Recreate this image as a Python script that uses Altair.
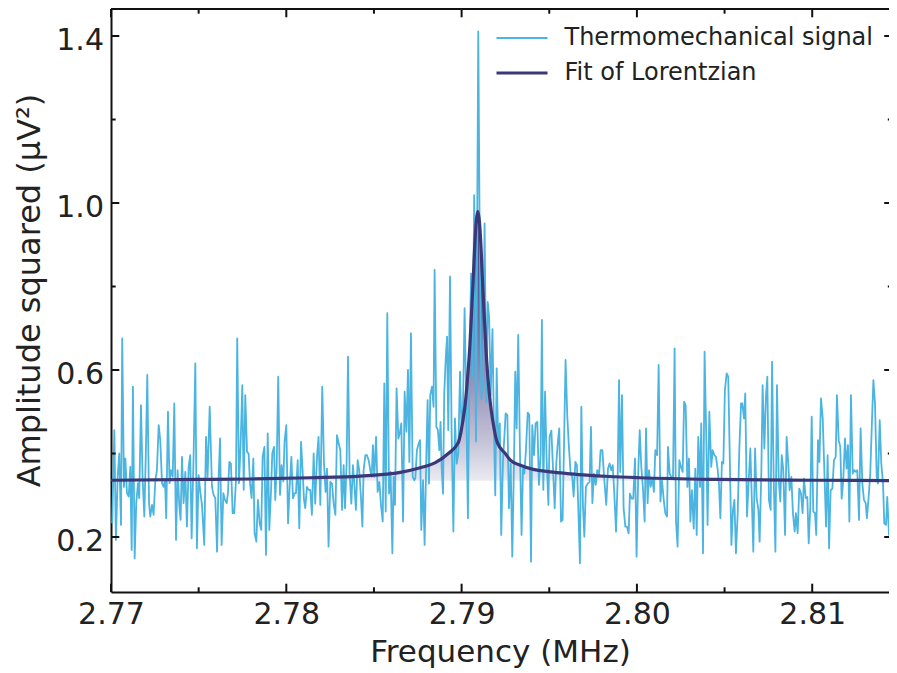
import altair as alt
import pandas as pd

# ---------------- data ----------------
FREQ_MHZ = [
    2.77007, 2.77019, 2.77028, 2.77038, 2.77047, 2.77057, 2.77064, 2.77074, 2.77082, 2.77091,
    2.77101, 2.77110, 2.77118, 2.77125, 2.77135, 2.77144, 2.77154, 2.77161, 2.77171, 2.77180,
    2.77190, 2.77199, 2.77207, 2.77217, 2.77224, 2.77234, 2.77243, 2.77253, 2.77262, 2.77272,
    2.77281, 2.77291, 2.77300, 2.77308, 2.77315, 2.77325, 2.77334, 2.77342, 2.77352, 2.77361,
    2.77371, 2.77380, 2.77390, 2.77397, 2.77405, 2.77414, 2.77424, 2.77433, 2.77443, 2.77452,
    2.77460, 2.77471, 2.77481, 2.77490, 2.77500, 2.77509, 2.77519, 2.77532, 2.77542, 2.77551,
    2.77563, 2.77576, 2.77585, 2.77595, 2.77605, 2.77614, 2.77622, 2.77631, 2.77641, 2.77650,
    2.77660, 2.77667, 2.77675, 2.77684, 2.77694, 2.77703, 2.77713, 2.77720, 2.77730, 2.77739,
    2.77749, 2.77757, 2.77766, 2.77776, 2.77785, 2.77793, 2.77802, 2.77812, 2.77819, 2.77829,
    2.77838, 2.77848, 2.77857, 2.77865, 2.77875, 2.77884, 2.77894, 2.77903, 2.77913, 2.77920,
    2.77930, 2.77937, 2.77945, 2.77954, 2.77964, 2.77973, 2.77983, 2.77990, 2.78000, 2.78010,
    2.78019, 2.78029, 2.78038, 2.78048, 2.78055, 2.78065, 2.78074, 2.78084, 2.78093, 2.78101,
    2.78108, 2.78118, 2.78127, 2.78137, 2.78146, 2.78156, 2.78165, 2.78175, 2.78184, 2.78194,
    2.78205, 2.78215, 2.78224, 2.78232, 2.78241, 2.78251, 2.78261, 2.78270, 2.78280, 2.78289,
    2.78299, 2.78308, 2.78318, 2.78327, 2.78335, 2.78344, 2.78352, 2.78361, 2.78371, 2.78380,
    2.78388, 2.78397, 2.78407, 2.78416, 2.78426, 2.78434, 2.78441, 2.78451, 2.78460, 2.78470,
    2.78479, 2.78487, 2.78494, 2.78502, 2.78512, 2.78521, 2.78531, 2.78540, 2.78550, 2.78559,
    2.78567, 2.78576, 2.78586, 2.78595, 2.78605, 2.78612, 2.78620, 2.78629, 2.78639, 2.78647,
    2.78656, 2.78666, 2.78675, 2.78685, 2.78694, 2.78702, 2.78711, 2.78721, 2.78730, 2.78736,
    2.78745, 2.78755, 2.78763, 2.78770, 2.78780, 2.78789, 2.78799, 2.78806, 2.78814, 2.78821,
    2.78831, 2.78840, 2.78846, 2.78856, 2.78865, 2.78873, 2.78880, 2.78886, 2.78894, 2.78901,
    2.78909, 2.78917, 2.78924, 2.78934, 2.78943, 2.78953, 2.78962, 2.78972, 2.78981, 2.78991,
    2.79000, 2.79008, 2.79017, 2.79027, 2.79036, 2.79045, 2.79054, 2.79062, 2.79072, 2.79082,
    2.79095, 2.79103, 2.79113, 2.79123, 2.79131, 2.79141, 2.79149, 2.79157, 2.79166, 2.79176,
    2.79184, 2.79192, 2.79200, 2.79209, 2.79218, 2.79226, 2.79236, 2.79245, 2.79251, 2.79261,
    2.79270, 2.79280, 2.79289, 2.79299, 2.79306, 2.79314, 2.79323, 2.79333, 2.79342, 2.79350,
    2.79358, 2.79367, 2.79377, 2.79386, 2.79396, 2.79403, 2.79413, 2.79422, 2.79432, 2.79441,
    2.79451, 2.79458, 2.79466, 2.79476, 2.79485, 2.79495, 2.79502, 2.79512, 2.79521, 2.79531,
    2.79540, 2.79550, 2.79557, 2.79567, 2.79576, 2.79584, 2.79593, 2.79603, 2.79612, 2.79622,
    2.79631, 2.79639, 2.79649, 2.79658, 2.79666, 2.79675, 2.79683, 2.79692, 2.79700, 2.79709,
    2.79719, 2.79730, 2.79738, 2.79746, 2.79755, 2.79765, 2.79774, 2.79784, 2.79793, 2.79803,
    2.79812, 2.79825, 2.79835, 2.79844, 2.79854, 2.79862, 2.79871, 2.79881, 2.79890, 2.79898,
    2.79905, 2.79915, 2.79924, 2.79934, 2.79943, 2.79953, 2.79960, 2.79970, 2.79979, 2.79989,
    2.79998, 2.80008, 2.80016, 2.80025, 2.80035, 2.80044, 2.80052, 2.80061, 2.80069, 2.80078,
    2.80088, 2.80097, 2.80105, 2.80115, 2.80124, 2.80134, 2.80143, 2.80153, 2.80162, 2.80172,
    2.80177, 2.80187, 2.80196, 2.80206, 2.80215, 2.80223, 2.80232, 2.80242, 2.80251, 2.80261,
    2.80269, 2.80278, 2.80288, 2.80297, 2.80305, 2.80314, 2.80324, 2.80333, 2.80341, 2.80350,
    2.80360, 2.80367, 2.80377, 2.80386, 2.80396, 2.80403, 2.80413, 2.80424, 2.80432, 2.80442,
    2.80451, 2.80461, 2.80468, 2.80476, 2.80485, 2.80493, 2.80502, 2.80512, 2.80521, 2.80529,
    2.80539, 2.80548, 2.80556, 2.80565, 2.80575, 2.80584, 2.80594, 2.80601, 2.80611, 2.80618,
    2.80628, 2.80637, 2.80647, 2.80656, 2.80664, 2.80674, 2.80683, 2.80693, 2.80700, 2.80710,
    2.80717, 2.80727, 2.80736, 2.80744, 2.80753, 2.80763, 2.80771, 2.80780, 2.80790, 2.80799,
    2.80809, 2.80818, 2.80826, 2.80835, 2.80845, 2.80854, 2.80864, 2.80871, 2.80881, 2.80890,
    2.80900, 2.80907, 2.80917, 2.80926, 2.80936, 2.80945, 2.80953, 2.80963, 2.80972, 2.80980,
    2.80989, 2.80997, 2.81006, 2.81016, 2.81023, 2.81033, 2.81041, 2.81050, 2.81060, 2.81069,
    2.81079, 2.81088, 2.81096, 2.81105, 2.81115, 2.81124, 2.81134, 2.81141, 2.81151, 2.81160,
    2.81168, 2.81177, 2.81187, 2.81196, 2.81204, 2.81212, 2.81221, 2.81231, 2.81240, 2.81250,
    2.81257, 2.81267, 2.81276, 2.81286, 2.81295, 2.81305, 2.81312, 2.81322, 2.81331, 2.81341,
    2.81349, 2.81358, 2.81368, 2.81375, 2.81385, 2.81394, 2.81404, 2.81411, 2.81421, 2.81428,
    2.81438, 2.81447, 2.81457, 2.81466, 2.81476, 2.81484,
]

AMPLITUDE = [
    0.233, 0.456, 0.193, 0.344, 0.400, 0.229, 0.676, 0.320, 0.388, 0.305,
    0.297, 0.368, 0.169, 0.560, 0.149, 0.281, 0.329, 0.293, 0.516, 0.344,
    0.249, 0.408, 0.588, 0.281, 0.249, 0.277, 0.253, 0.337, 0.360, 0.468,
    0.432, 0.329, 0.320, 0.337, 0.245, 0.500, 0.329, 0.360, 0.344, 0.520,
    0.193, 0.360, 0.273, 0.241, 0.392, 0.281, 0.356, 0.225, 0.368, 0.396,
    0.197, 0.392, 0.616, 0.173, 0.348, 0.309, 0.277, 0.181, 0.440, 0.344,
    0.512, 0.320, 0.301, 0.293, 0.165, 0.344, 0.436, 0.181, 0.305, 0.289,
    0.281, 0.305, 0.380, 0.376, 0.257, 0.257, 0.337, 0.676, 0.329, 0.416,
    0.564, 0.313, 0.540, 0.404, 0.400, 0.329, 0.293, 0.388, 0.209, 0.189,
    0.289, 0.233, 0.217, 0.392, 0.416, 0.157, 0.448, 0.217, 0.313, 0.400,
    0.416, 0.289, 0.368, 0.584, 0.301, 0.372, 0.333, 0.428, 0.468, 0.233,
    0.320, 0.392, 0.293, 0.305, 0.305, 0.384, 0.221, 0.428, 0.360, 0.289,
    0.269, 0.320, 0.313, 0.313, 0.253, 0.400, 0.280, 0.392, 0.440, 0.277,
    0.560, 0.376, 0.308, 0.364, 0.177, 0.332, 0.328, 0.280, 0.253, 0.444,
    0.424, 0.408, 0.265, 0.372, 0.269, 0.376, 0.632, 0.352, 0.280, 0.372,
    0.328, 0.265, 0.384, 0.360, 0.293, 0.225, 0.360, 0.396, 0.396, 0.384,
    0.360, 0.344, 0.420, 0.344, 0.440, 0.308, 0.332, 0.277, 0.237, 0.568,
    0.261, 0.736, 0.304, 0.356, 0.161, 0.344, 0.277, 0.556, 0.436, 0.448,
    0.472, 0.237, 0.548, 0.452, 0.600, 0.380, 0.688, 0.344, 0.336, 0.340,
    0.408, 0.424, 0.432, 0.217, 0.336, 0.181, 0.400, 0.528, 0.328, 0.540,
    0.560, 0.512, 0.840, 0.464, 0.456, 0.408, 0.476, 0.368, 0.304, 0.544,
    0.624, 0.680, 0.456, 0.824, 0.448, 0.213, 0.484, 0.376, 0.400, 0.596,
    0.448, 0.512, 0.748, 0.512, 0.245, 0.620, 0.831, 0.583, 1.019, 0.429,
    1.411, 0.925, 0.531, 0.583, 0.951, 0.523, 0.763, 0.728, 0.540, 0.698,
    0.472, 0.300, 0.604, 0.420, 0.472, 0.205, 0.384, 0.448, 0.496, 0.492,
    0.269, 0.376, 0.153, 0.384, 0.596, 0.460, 0.684, 0.400, 0.205, 0.364,
    0.352, 0.408, 0.498, 0.492, 0.141, 0.468, 0.396, 0.472, 0.476, 0.325,
    0.400, 0.720, 0.313, 0.548, 0.384, 0.277, 0.440, 0.455, 0.368, 0.269,
    0.376, 0.432, 0.460, 0.237, 0.241, 0.416, 0.624, 0.488, 0.416, 0.352,
    0.344, 0.297, 0.380, 0.372, 0.265, 0.137, 0.512, 0.277, 0.201, 0.320,
    0.328, 0.332, 0.464, 0.281, 0.352, 0.325, 0.360, 0.348, 0.408, 0.408,
    0.348, 0.277, 0.364, 0.376, 0.360, 0.372, 0.304, 0.213, 0.336, 0.576,
    0.356, 0.540, 0.269, 0.225, 0.225, 0.209, 0.304, 0.292, 0.292, 0.388,
    0.153, 0.360, 0.456, 0.368, 0.312, 0.237, 0.460, 0.281, 0.360, 0.320,
    0.340, 0.308, 0.408, 0.396, 0.612, 0.285, 0.336, 0.289, 0.257, 0.249,
    0.416, 0.352, 0.344, 0.344, 0.652, 0.237, 0.177, 0.384, 0.368, 0.356,
    0.524, 0.516, 0.320, 0.388, 0.237, 0.312, 0.220, 0.364, 0.205, 0.440,
    0.320, 0.472, 0.161, 0.644, 0.432, 0.229, 0.500, 0.368, 0.408, 0.396,
    0.392, 0.360, 0.328, 0.245, 0.380, 0.376, 0.552, 0.592, 0.584, 0.408,
    0.181, 0.265, 0.289, 0.161, 0.257, 0.408, 0.520, 0.520, 0.484, 0.544,
    0.249, 0.328, 0.412, 0.281, 0.165, 0.412, 0.293, 0.265, 0.189, 0.360,
    0.564, 0.412, 0.536, 0.584, 0.289, 0.265, 0.620, 0.344, 0.165, 0.564,
    0.336, 0.285, 0.396, 0.360, 0.205, 0.440, 0.372, 0.312, 0.344, 0.257,
    0.213, 0.257, 0.209, 0.316, 0.304, 0.257, 0.340, 0.293, 0.296, 0.185,
    0.273, 0.488, 0.261, 0.257, 0.205, 0.432, 0.380, 0.532, 0.484, 0.360,
    0.225, 0.396, 0.173, 0.312, 0.316, 0.384, 0.392, 0.540, 0.432, 0.416,
    0.292, 0.336, 0.436, 0.364, 0.420, 0.237, 0.540, 0.352, 0.360, 0.356,
    0.360, 0.241, 0.460, 0.328, 0.289, 0.281, 0.245, 0.296, 0.352, 0.480,
    0.576, 0.520, 0.344, 0.328, 0.480, 0.376, 0.328, 0.233, 0.229, 0.296,
    0.205, 0.257, 0.220, 0.420, 0.336, 0.261,
]

FIT_FREQ_MHZ = [
    2.77002, 2.77509, 2.77795, 2.78137, 2.78422, 2.78650, 2.78764, 2.78850, 2.78924, 2.78981,
    2.79007, 2.79021, 2.79035, 2.79047, 2.79058, 2.79067, 2.79075, 2.79084, 2.79092, 2.79101,
    2.79110, 2.79118, 2.79127, 2.79138, 2.79149, 2.79164, 2.79178, 2.79204, 2.79249, 2.79278,
    2.79335, 2.79409, 2.79506, 2.79603, 2.79694, 2.79843, 2.80019, 2.80447, 2.81018, 2.81438,
]
FIT_AMPLITUDE = [
    0.336, 0.338, 0.339, 0.342, 0.346, 0.355, 0.366, 0.378, 0.400, 0.426,
    0.478, 0.520, 0.587, 0.657, 0.748, 0.825, 0.900, 0.958, 0.980, 0.958,
    0.900, 0.825, 0.748, 0.657, 0.587, 0.520, 0.478, 0.426, 0.400, 0.384,
    0.372, 0.362, 0.356, 0.352, 0.349, 0.345, 0.342, 0.338, 0.336, 0.335,
]
FIT_SHADE_FLOOR = 0.335

SERIES = ["Thermomechanical signal", "Fit of Lorentzian"]
X_MAJOR = [2.77, 2.78, 2.79, 2.80, 2.81]
X_MINOR = [2.775, 2.785, 2.795, 2.805]
Y_MAJOR = [0.2, 0.6, 1.0, 1.4]
Y_MINOR = [0.4, 0.8, 1.2]
X_DOMAIN = [2.77, 2.81438]
Y_DOMAIN = [0.0683, 1.4647]

# ---------------- styling ----------------
COLORS = ["#4bb4e0", "#3b387a"]
STROKES = [1.8, 3.2]
FONT = "DejaVu Sans"
TEXT = "#222222"
INK = "#111111"
W, H = 778, 583
MAJ, MIN = 8.3, 4.7

signal_df = pd.DataFrame({"freq": FREQ_MHZ, "amp": AMPLITUDE, "series": SERIES[0]})
fit_df = pd.DataFrame({"freq": FIT_FREQ_MHZ, "amp": FIT_AMPLITUDE, "series": SERIES[1]})

xscale = alt.Scale(domain=X_DOMAIN, nice=False, zero=False)
yscale = alt.Scale(domain=Y_DOMAIN, nice=False, zero=False)
cscale = alt.Scale(domain=SERIES, range=COLORS)
wscale = alt.Scale(type="ordinal", domain=SERIES, range=STROKES)

x_axis = alt.Axis(
    values=X_MAJOR, format=".2f", title="Frequency (MHz)", grid=False,
    ticks=False, tickSize=0, labelFlush=False, labelFontSize=30, labelPadding=7.3,
    titleFontSize=31, titleY=45.5, domainColor=INK, domainWidth=2,
)
y_axis = alt.Axis(
    values=Y_MAJOR, format=".1f", title="Amplitude squared (μV²)", grid=False,
    ticks=False, tickSize=0, labelFontSize=30, labelPadding=7.5, labelOffset=4.5,
    titleFontSize=32, titleAngle=270, titleAlign="center", titleBaseline="alphabetic",
    titleX=-72, titleY=281, domainColor=INK, domainWidth=2,
)

X = alt.X("freq:Q", scale=xscale, axis=x_axis)
Y = alt.Y("amp:Q", scale=yscale, axis=y_axis)
legend = alt.Legend(title=None)

shade = alt.Chart(fit_df).mark_area(
    interpolate="monotone",
    color=alt.LinearGradient(
        gradient="linear",
        stops=[
            alt.GradientStop(offset=0, color="#39367a"),
            alt.GradientStop(offset=0.4, color="#6f6a9e"),
            alt.GradientStop(offset=0.65, color="#9995bb"),
            alt.GradientStop(offset=0.85, color="#c4c2d8"),
            alt.GradientStop(offset=1, color="#ebeaf1"),
        ],
        x1=0, x2=0, y1=0, y2=1,
    ),
).encode(x=X, y=Y, y2=alt.datum(FIT_SHADE_FLOOR))

signal = alt.Chart(signal_df).mark_line(strokeJoin="round").encode(
    x=X, y=Y,
    color=alt.Color("series:N", scale=cscale, legend=legend),
    strokeWidth=alt.StrokeWidth("series:N", scale=wscale, legend=legend),
)
fit = alt.Chart(fit_df).mark_line(interpolate="monotone").encode(
    x=X, y=Y,
    color=alt.Color("series:N", scale=cscale, legend=legend),
    strokeWidth=alt.StrokeWidth("series:N", scale=wscale, legend=legend),
)

def xticks(values, length):
    df = pd.DataFrame({"freq": values})
    bottom = alt.Chart(df).mark_rule(color=INK, strokeWidth=2).encode(
        x=X, y=alt.value(H), y2=alt.value(H - length))
    top = alt.Chart(df).mark_rule(color=INK, strokeWidth=2).encode(
        x=X, y=alt.value(0), y2=alt.value(length))
    return [bottom, top]

def yticks(values, length):
    df = pd.DataFrame({"amp": values})
    left = alt.Chart(df).mark_rule(color=INK, strokeWidth=2).encode(
        y=Y, x=alt.value(0), x2=alt.value(length))
    right = alt.Chart(df).mark_rule(color=INK, strokeWidth=2).encode(
        y=Y, x=alt.value(W + 1), x2=alt.value(W + 1 - length + 2.5))
    return [left, right]

top_spine = alt.Chart(pd.DataFrame({"k": [0]})).mark_rule(
    color=INK, strokeWidth=2).encode(x=alt.value(0), x2=alt.value(W), y=alt.value(0))

layers = [shade, signal, fit] + xticks(X_MAJOR, MAJ) + xticks(X_MINOR, MIN) \
    + yticks(Y_MAJOR, MAJ) + yticks(Y_MINOR, MIN) + [top_spine]

chart = alt.layer(*layers).properties(
    width=W, height=H,
    autosize=alt.AutoSizeParams(type="none"),
    padding={"left": 103, "top": 1, "right": 0, "bottom": 78},
).configure_view(strokeWidth=0).configure_axis(
    labelFont=FONT, titleFont=FONT, labelColor=TEXT, titleColor=TEXT,
    titleFontWeight="normal",
).configure_legend(
    orient="none", legendX=383.5, legendY=17, padding=0,
    symbolType="stroke", symbolSize=2601, clipHeight=24,
    labelFont=FONT, labelFontSize=24, labelColor=TEXT, labelOffset=15,
    labelLimit=500, rowPadding=11, symbolOffset=0,
)

chart.save("out.html", embed_options={"renderer": "svg", "actions": False})
